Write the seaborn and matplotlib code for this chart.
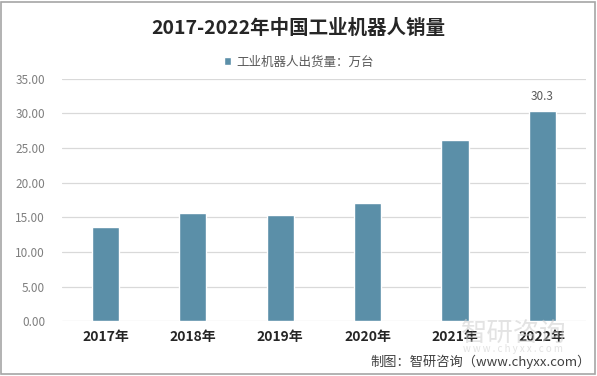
import matplotlib
matplotlib.use("Agg")
import matplotlib.pyplot as plt
import pandas as pd
import seaborn as sns
from matplotlib.patches import Rectangle

years = ["2017年", "2018年", "2019年", "2020年", "2021年", "2022年"]
shipments = [13.6, 15.6, 15.3, 17.0, 26.2, 30.3]
series_name = "工业机器人出货量：万台"
title = "2017-2022年中国工业机器人销量"
source = "制图：智研咨询（www.chyxx.com）"

BAR = "#5b8fa8"

sns.set_theme(style="white")
plt.rcParams["font.family"] = ["Noto Sans CJK SC", "DejaVu Sans"]

df = pd.DataFrame({"year": years, "value": shipments})

fig = plt.figure(figsize=(5.97, 3.76), dpi=100)
ax = fig.add_axes([0.1035, 0.1452, 0.8781, 0.646])

sns.barplot(data=df, x="year", y="value", color=BAR, width=0.31,
            saturation=1, label=series_name, ax=ax)

ax.set_ylim(0, 35)
ax.set_xlim(-0.5, 5.5)
ax.set_yticks(range(0, 36, 5))
ax.set_yticklabels([f"{v:.2f}" for v in range(0, 36, 5)], color="#7f7f7f", fontsize=8.5)
ax.tick_params(axis="x", length=0, pad=6)
ax.tick_params(axis="y", length=0, pad=12)
for lab in ax.get_xticklabels():
    lab.set_fontweight("bold")
    lab.set_fontsize(10)
    lab.set_color("#262626")
ax.set_xlabel("")
ax.set_ylabel("")
ax.yaxis.grid(True, color="#d9d9d9", linewidth=0.9)
ax.set_axisbelow(True)
for s in ax.spines.values():
    s.set_visible(False)

# value label on last bar only
ax.annotate(f"{shipments[-1]}", (5, shipments[-1]), xytext=(0, 6),
            textcoords="offset points", ha="center", va="bottom",
            fontsize=8.5, color="#595959")

ax.legend(loc="center", bbox_to_anchor=(0.5, 0.835), bbox_transform=fig.transFigure,
          frameon=False, fontsize=9, handlelength=0.6, handleheight=0.6,
          handletextpad=0.4, labelcolor="#595959")

fig.text(0.5, 0.925, title, ha="center", va="center", fontsize=14,
         fontweight="bold", color="#262626")

# watermark
fig.text(0.86, 0.112, "智研咨询", ha="center", va="center", fontsize=19,
         color="#cccccc", alpha=0.55)
fig.text(0.86, 0.072, "w w w . c h y x x . c o m", ha="center", va="center",
         fontsize=7, color="#cccccc", alpha=0.55)

fig.text(0.99, 0.037, source, ha="right", va="center", fontsize=9.5,
         color="#404040")

fig.patches.append(Rectangle((0.002, 0.006), 0.995, 0.99, transform=fig.transFigure,
                             fill=False, edgecolor="#a6a6a6", linewidth=1.2))

fig.savefig("out.png", dpi=100)
